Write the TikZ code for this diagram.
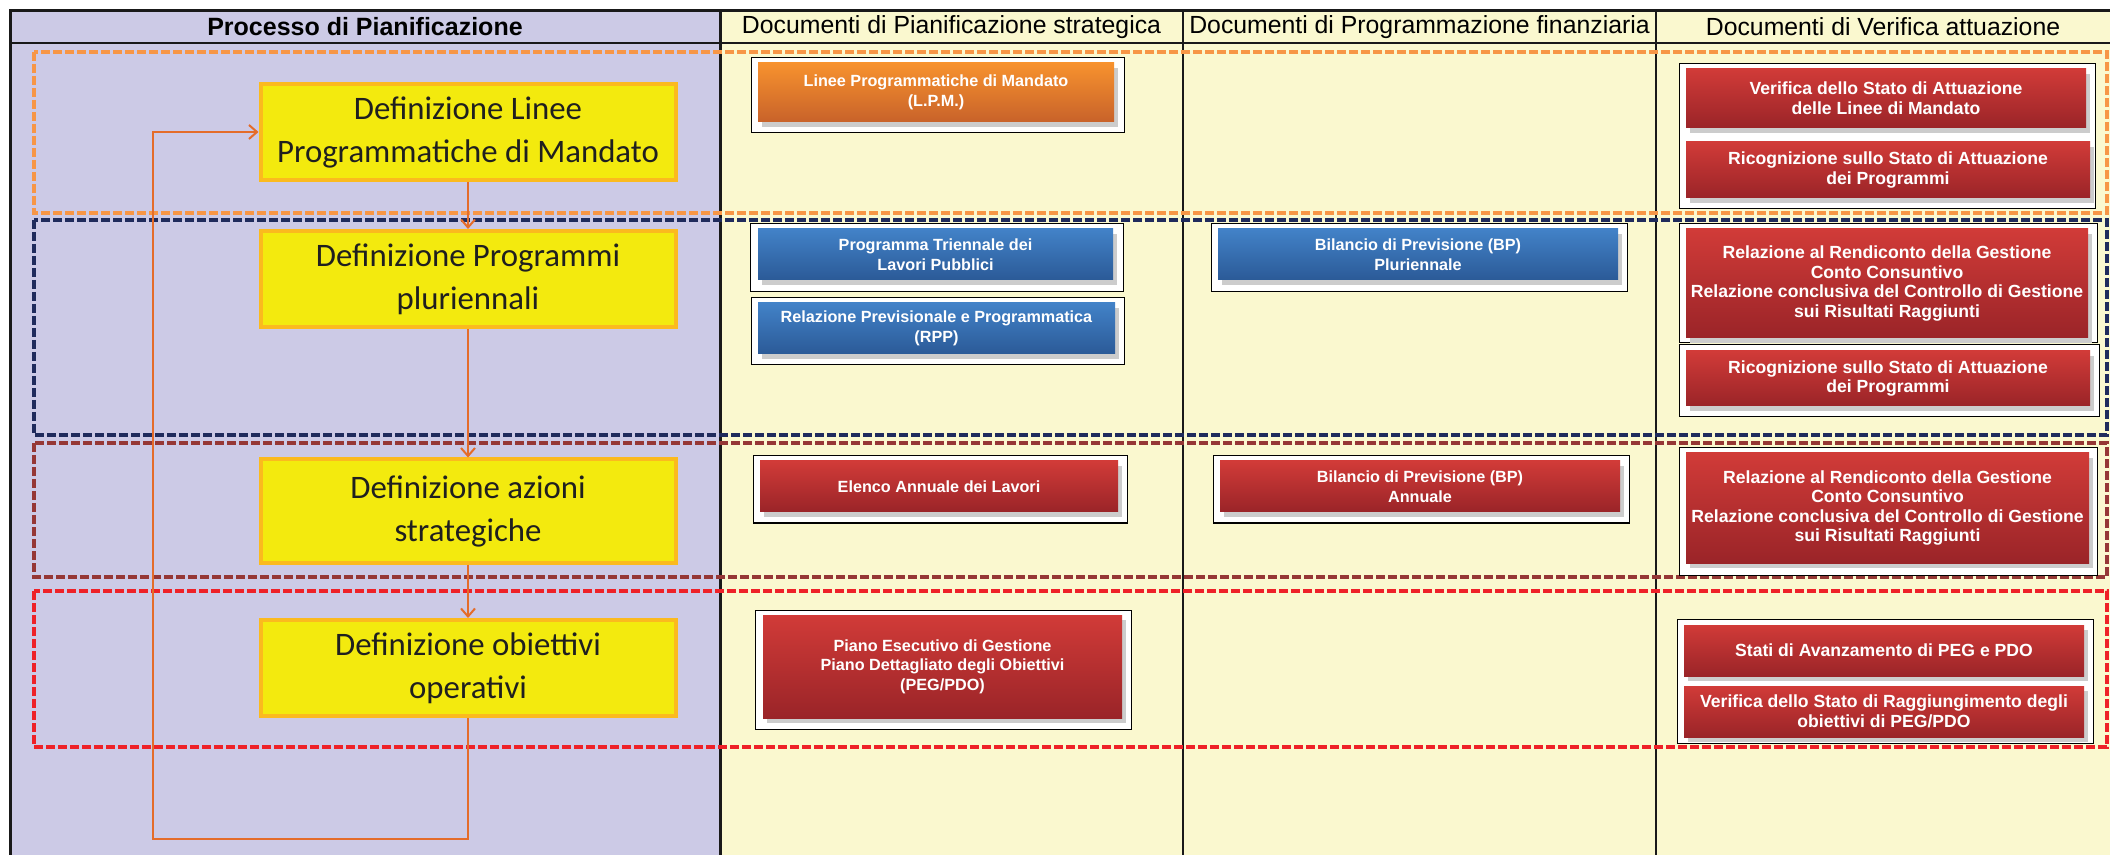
\documentclass[tikz,border=0pt]{standalone}
\usepackage{fontspec}
\setmainfont{Liberation Sans}
\newfontfamily\procfont{Carlito}
\usetikzlibrary{arrows.meta,shadows}

\definecolor{lavcol}{HTML}{CCCAE6}
\definecolor{creamcol}{HTML}{FAF8CF}
\definecolor{procfill}{HTML}{F3EA0E}
\definecolor{procline}{HTML}{FBBA1E}
\definecolor{flowcol}{HTML}{E46C2A}
\definecolor{grporange}{HTML}{F79646}
\definecolor{grpnavy}{HTML}{1F2B5C}
\definecolor{grpbrown}{HTML}{953735}
\definecolor{grpred}{HTML}{EE2128}
\definecolor{orangetop}{HTML}{F7922E}
\definecolor{orangebot}{HTML}{C8622A}
\definecolor{bluetop}{HTML}{4282C8}
\definecolor{bluebot}{HTML}{2B5A97}
\definecolor{redtop}{HTML}{D13B38}
\definecolor{redbot}{HTML}{9A2428}

\begin{document}
\begin{tikzpicture}[x=0.5pt,y=-0.5pt,
  head/.style={font=\fontsize{12.4}{15}\selectfont},
  proc/.style={draw=procline,line width=2pt,fill=procfill,
    minimum width=207.5pt,minimum height=48pt,align=center,text=black!88,
    font=\procfont\fontsize{16.4}{21.5}\selectfont},
  doc/.style={align=center,text=white,inner sep=0pt,
    font=\bfseries\fontsize{8.1}{9.8}\selectfont,
    drop shadow={opacity=1,fill=black!20,shadow xshift=2pt,shadow yshift=-2.5pt}},
  orangedoc/.style={doc,top color=orangetop,bottom color=orangebot},
  bluedoc/.style={doc,top color=bluetop,bottom color=bluebot},
  reddoc/.style={doc,top color=redtop,bottom color=redbot},
  verdoc/.style={reddoc,font=\bfseries\fontsize{8.8}{9.8}\selectfont},
  frame/.style={draw=black,line width=0.5pt,fill=white},
  grp/.style={line width=1.8pt,dash pattern=on 4.5pt off 1.5pt},
  flow/.style={-{Straight Barb[length=4pt,width=7pt]},draw=flowcol,line width=1pt}]
\useasboundingbox (0,0) rectangle (2110,855);
\fill[white] (0,0) rectangle (2110,855);
% colonne
\fill[lavcol] (10,11) rectangle (720,855);
\fill[creamcol] (720,11) rectangle (2110,855);
\draw[line width=1.5pt,black!90] (10,855) -- (10,11) -- (2110,11);
\draw[line width=1.2pt,black!90] (10,43) -- (2110,43);
\draw[line width=1.5pt,black!90] (720,11) -- (720,855);
\draw[line width=0.6pt,black!90] (1183,11) -- (1183,855);
\draw[line width=1.2pt,black!90] (1656,11) -- (1656,855);
\node[head,font=\bfseries\fontsize{12.5}{15}\selectfont] (hproc) at (365,27) {Processo di Pianificazione};
\node[head] (hstrat) at (951.5,27) {Documenti di Pianificazione strategica};
\node[head] (hfin) at (1419.5,27) {Documenti di Programmazione finanziaria};
\node[head] (hver) at (1883,27) {Documenti di Verifica attuazione};
% fasi
\draw[grp,grporange] (34,52) rectangle (2107,213);
\draw[grp,grpnavy] (34,220) rectangle (2107,435);
\draw[grp,grpbrown] (34,443) rectangle (2107,577);
\draw[grp,grpred] (34,591) rectangle (2107,747);
% cornici bianche
\foreach \xa/\ya/\xb/\yb in {751/58/1124/133,750/224/1123/292,751/298/1124/365,
    753/456/1127/523,755/610/1131/729,1211/224/1627/292,1213/456/1629/523,
    1679/64/2095/209,1679/224/2097/343,1679/345/2099/417,1679/448/2097/575,
    1677/619/2093/743}
  \draw[frame] (\xa,\ya) rectangle (\xb,\yb);
% documenti
\node[orangedoc,minimum width=178pt,minimum height=29.5pt] (lpm) at (936,92.5) {Linee Programmatiche di Mandato\\(L.P.M.)};
\node[bluedoc,minimum width=177.5pt,minimum height=25.5pt] (ptlp) at (935.5,254.5) {Programma Triennale dei\\Lavori Pubblici};
\node[bluedoc,minimum width=178.5pt,minimum height=25.5pt] (rpp) at (936.5,328.5) {Relazione Previsionale e Programmatica\\(RPP)};
\node[reddoc,minimum width=179pt,minimum height=25.5pt] (elenco) at (939,486.5) {Elenco Annuale dei Lavori};
\node[reddoc,minimum width=179.5pt,minimum height=51.5pt] (peg) at (942.5,666.5) {Piano Esecutivo di Gestione\\Piano Dettagliato degli Obiettivi\\(PEG/PDO)};
\node[bluedoc,minimum width=200pt,minimum height=25.5pt] (bpp) at (1418,254.5) {Bilancio di Previsione (BP)\\Pluriennale};
\node[reddoc,minimum width=200pt,minimum height=25.5pt] (bpa) at (1420,486.5) {Bilancio di Previsione (BP)\\Annuale};
\node[verdoc,minimum width=200pt,minimum height=29.5pt] (vslm) at (1886,98.5) {Verifica dello Stato di Attuazione\\delle Linee di Mandato};
\node[verdoc,minimum width=202pt,minimum height=28pt] (ric1) at (1888,170) {Ricognizione sullo Stato di Attuazione\\dei Programmi};
\node[verdoc,minimum width=201pt,minimum height=54.5pt] (rel1) at (1887,283.5) {Relazione al Rendiconto della Gestione\\Conto Consuntivo\\Relazione conclusiva del Controllo di Gestione\\sui Risultati Raggiunti};
\node[verdoc,minimum width=202pt,minimum height=27.5pt] (ric2) at (1888,378.5) {Ricognizione sullo Stato di Attuazione\\dei Programmi};
\node[verdoc,minimum width=201.5pt,minimum height=55pt] (rel2) at (1887.5,508) {Relazione al Rendiconto della Gestione\\Conto Consuntivo\\Relazione conclusiva del Controllo di Gestione\\sui Risultati Raggiunti};
\node[verdoc,minimum width=200pt,minimum height=25.5pt] (sav) at (1884,650.5) {Stati di Avanzamento di PEG e PDO};
\node[verdoc,minimum width=200pt,minimum height=25.5pt] (vsr) at (1884,711.5) {Verifica dello Stato di Raggiungimento degli\\obiettivi di PEG/PDO};
% processo
\node[proc] (p1) at (468,132) {Definizione Linee\\Programmatiche di Mandato};
\node[proc] (p2) at (468,279) {Definizione Programmi\\pluriennali};
\node[proc,minimum height=51.5pt] (p3) at (468,511) {Definizione azioni\\strategiche};
\node[proc] (p4) at (468,668) {Definizione obiettivi\\operativi};
\foreach \from/\to in {p1/p2,p2/p3,p3/p4}
  \draw[flow] (\from.south) -- (\to.north);
\coordinate (loopturn) at (153,839);
\draw[flow] (p4.south) |- (loopturn) |- (p1.west);
\end{tikzpicture}
\end{document}
